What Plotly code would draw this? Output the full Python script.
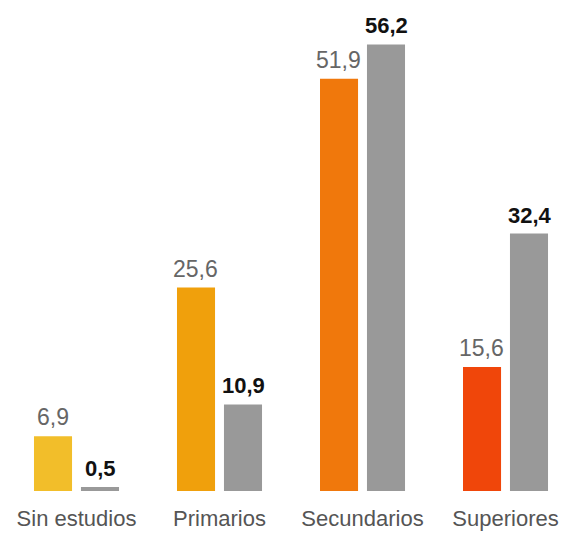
import plotly.graph_objects as go

categories = ["Sin estudios", "Primarios", "Secundarios", "Superiores"]
serie_a = [6.9, 25.6, 51.9, 15.6]
serie_b = [0.5, 10.9, 56.2, 32.4]
labels_a = ["6,9", "25,6", "51,9", "15,6"]
labels_b = ["0,5", "10,9", "56,2", "32,4"]
colors_a = ["#F2BE2A", "#F0A00C", "#F0780C", "#F0460A"]
color_b = "#999999"

x = list(range(len(categories)))

fig = go.Figure()
fig.add_trace(go.Bar(x=x, y=serie_a, marker=dict(color=colors_a, line=dict(width=0)),
                     hoverinfo="skip"))
fig.add_trace(go.Bar(x=x, y=serie_b, marker=dict(color=color_b, line=dict(width=0)),
                     hoverinfo="skip"))

font_family = "Liberation Sans, Arial, sans-serif"
for i in x:
    fig.add_annotation(x=i, y=serie_a[i], text=labels_a[i], showarrow=False,
                       yanchor="bottom", xanchor="center", xshift=-24, yshift=4,
                       font=dict(family=font_family, size=23, color="#666666"))
    fig.add_annotation(x=i, y=serie_b[i], text="<b>" + labels_b[i] + "</b>", showarrow=False,
                       yanchor="bottom", xanchor="center", xshift=24, yshift=4,
                       font=dict(family=font_family, size=22, color="#111111"))

fig.update_layout(
    width=565, height=534,
    margin=dict(l=0, r=0, t=0, b=43),
    paper_bgcolor="white", plot_bgcolor="white",
    barmode="group", bargap=0.343, bargroupgap=0.19,
    showlegend=False,
    xaxis=dict(range=[-0.535, 3.416], tickmode="array", tickvals=x, ticktext=categories,
               showgrid=False, zeroline=False, showline=False, automargin=False,
               ticks="outside", ticklen=8, tickcolor="rgba(0,0,0,0)",
               tickfont=dict(family=font_family, size=22, color="#555555")),
    yaxis=dict(range=[0, 61.8], visible=False, showgrid=False, zeroline=False,
               automargin=False),
)

fig.write_html("out.html",
               config={"displayModeBar": False, "staticPlot": True},
               post_script="document.body.style.margin='0';document.body.style.overflow='hidden';")
